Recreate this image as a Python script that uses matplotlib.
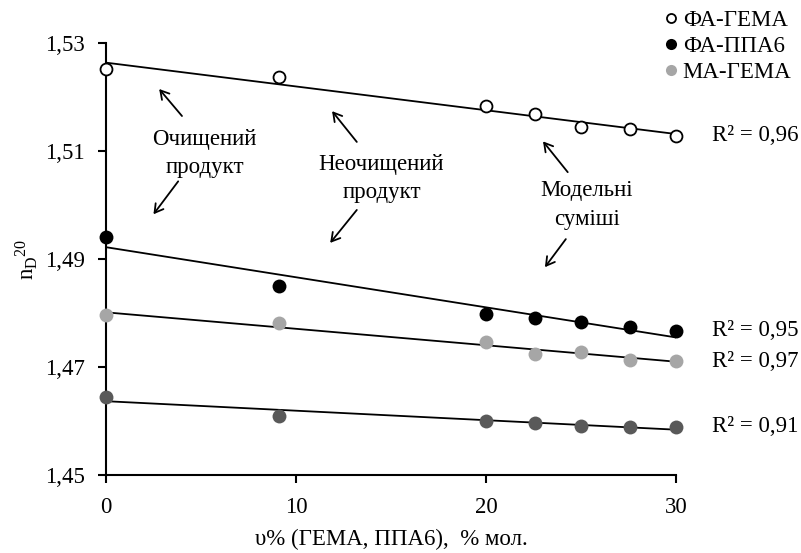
import numpy as np
import matplotlib
matplotlib.use("Agg")
import matplotlib.pyplot as plt
from matplotlib.ticker import FuncFormatter
from matplotlib.lines import Line2D

plt.rcParams["font.family"] = ["Liberation Serif", "DejaVu Serif"]
plt.rcParams["mathtext.fontset"] = "custom"
plt.rcParams["mathtext.rm"] = "Liberation Serif"
plt.rcParams["mathtext.it"] = "Liberation Serif:italic"

# composition, mol %
x = [0, 9.1, 20, 22.6, 25, 27.6, 30]

# refractive index n_D^20
fa_gema = [1.5252, 1.5238, 1.5183, 1.5169, 1.5144, 1.5141, 1.5128]
fa_ppa6 = [1.4941, 1.4851, 1.4798, 1.4791, 1.4784, 1.4774, 1.4767]
ma_gema = [1.4796, 1.4781, 1.4746, 1.4725, 1.4728, 1.4713, 1.4711]
ma_ppa6 = [1.4645, 1.4610, 1.4600, 1.4597, 1.4591, 1.4589, 1.4589]

r2_labels = ["R² = 0,96", "R² = 0,95", "R² = 0,97", "R² = 0,91"]
r2_y = [1.5128, 1.4768, 1.4711, 1.4589]

FS = 16.5

fig = plt.figure(figsize=(8.01, 5.53), dpi=100)
ax = fig.add_axes([0.1323, 0.141, 0.7117, 0.781])

series = [
    (fa_gema, dict(mfc="white", mec="black", mew=1.3), "ФА-ГЕМА"),
    (fa_ppa6, dict(mfc="black", mec="black", mew=0), "ФА-ППА6"),
    (ma_gema, dict(mfc="#a6a6a6", mec="#a6a6a6", mew=0), "МА-ГЕМА"),
    (ma_ppa6, dict(mfc="#595959", mec="#595959", mew=0), None),
]

xs = np.array(x)
for ys, style, name in series:
    k, b = np.polyfit(xs, ys, 1)
    ax.plot([0, 30], [b, b + 30 * k], color="black", lw=1.3, zorder=2)
    ax.plot(xs, ys, ls="none", marker="o", ms=10 if style["mew"] == 0 else 8.6,
            zorder=3, clip_on=False, **style)

for lab, yv in zip(r2_labels, r2_y):
    ax.text(31.9, yv, lab, fontsize=FS, va="center", ha="left")

ax.set_xlim(0, 30)
ax.set_ylim(1.45, 1.53)
ax.set_xticks([0, 10, 20, 30])
ax.set_yticks([1.45, 1.47, 1.49, 1.51, 1.53])
ax.yaxis.set_major_formatter(FuncFormatter(lambda v, p: f"{v:.2f}".replace(".", ",")))
ax.tick_params(direction="out", length=6, width=1.5, labelsize=FS)
ax.tick_params(axis="x", pad=10)
ax.tick_params(axis="y", pad=9)
for s in ("top", "right"):
    ax.spines[s].set_visible(False)
for s in ("left", "bottom"):
    ax.spines[s].set_linewidth(1.5)

ax.set_xlabel("υ% (ГЕМА, ППА6),  % мол.", fontsize=FS, labelpad=8)
ax.set_ylabel(r"n$_\mathregular{D}$$^\mathregular{20}$", fontsize=FS, labelpad=4)

# region notes with arrows
notes = [
    ("Очищений\nпродукт", (5.2, 1.5096),
     [((4.0, 1.5165), (2.8, 1.5215)), ((3.8, 1.5044), (2.5, 1.4983))]),
    ("Неочищений\nпродукт", (14.5, 1.5050),
     [((13.2, 1.5117), (11.9, 1.5174)), ((13.2, 1.4991), (11.8, 1.4930))]),
    ("Модельні\nсуміші", (25.3, 1.5000),
     [((24.3, 1.5061), (23.0, 1.5118)), ((24.2, 1.4937), (23.1, 1.4885))]),
]
for txt, pos, arrows in notes:
    ax.text(pos[0], pos[1], txt, fontsize=FS, ha="center", va="center",
            linespacing=1.45)
    for tail, head in arrows:
        ax.annotate("", xy=head, xytext=tail,
                    arrowprops=dict(arrowstyle="->,head_length=0.6,head_width=0.35",
                                    lw=1.3, color="black", shrinkA=0, shrinkB=0))

handles = [Line2D([], [], ls="none", marker="o", ms=8 if st["mew"] == 0 else 6.5, **st)
           for _, st, nm in series if nm]
labels = [nm for _, _, nm in series if nm]
fig.legend(handles, labels, loc="upper left", bbox_to_anchor=(0.818, 0.998),
           frameon=False, fontsize=FS, handlelength=0.6, handletextpad=0.2,
           labelspacing=0.2, borderaxespad=0)

fig.savefig("out.png", dpi=100)
